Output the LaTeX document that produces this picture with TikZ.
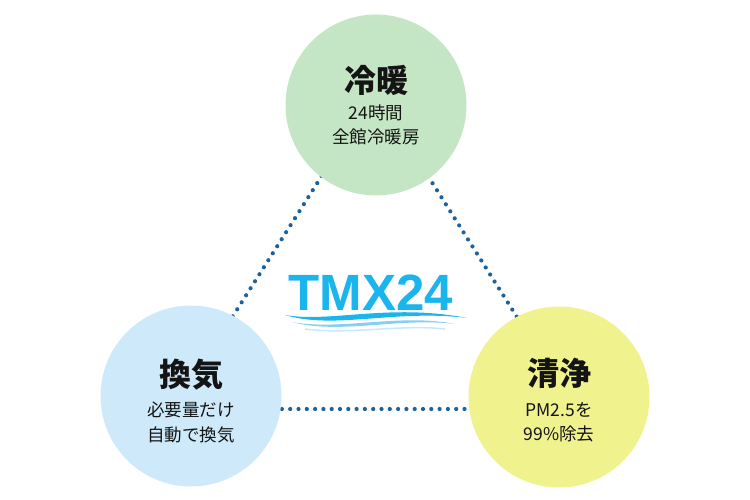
\documentclass[tikz,border=0pt]{standalone}
\usepackage{fontspec}
\newfontfamily\cjk{Noto Sans CJK JP}
\newfontfamily\logofont{Liberation Sans}
\usetikzlibrary{calc}
\definecolor{cgreen}{RGB}{197,230,196}
\definecolor{cblue}{RGB}{206,234,250}
\definecolor{cyellow}{RGB}{240,242,142}
\definecolor{dotc}{RGB}{29,99,153}
\definecolor{logoc}{RGB}{25,181,236}
\definecolor{wave2}{RGB}{130,208,242}
\definecolor{wave3}{RGB}{200,233,248}
\definecolor{txt}{RGB}{20,20,20}
\tikzset{
  bubble/.style={circle, minimum size=181pt, inner sep=0pt, draw=none},
  titletext/.style={inner sep=0pt, font=\cjk\bfseries\fontsize{32}{34}\selectfont, text=txt},
  subtext/.style={inner sep=0pt, font=\cjk\fontsize{17.5}{20}\selectfont, text=txt},
  dotline/.style={draw=dotc, line width=4.2pt, line cap=round, dash pattern=on 0pt off 8.3pt}
}
\begin{document}
\begin{tikzpicture}[x=1pt,y=-1pt]
\useasboundingbox (0,0) rectangle (750,500);
% triangle corners
\coordinate (A) at (174,409);
\coordinate (B) at (375,92);
\coordinate (C) at (575,409);
\draw[dotline] (B) -- (A);
\draw[dotline] (B) -- (C);
\draw[dotline] (A) -- (C);
% circles
\node[bubble, fill=cgreen] (top) at (376,105) {};
\node[bubble, fill=cblue] (left) at (191,396) {};
\node[bubble, fill=cyellow] (right) at (559,397) {};
% texts
\node[titletext] (t1) at ($(top)+(0,-25)$) {冷暖};
\node[subtext] (t1a) at ($(top)+(0,8)$) {24時間};
\node[subtext] (t1b) at ($(top)+(0,32)$) {全館冷暖房};
\node[titletext] (t2) at ($(left)+(0,-21)$) {換気};
\node[subtext] (t2a) at ($(left)+(0,14)$) {必要量だけ};
\node[subtext] (t2b) at ($(left)+(0,39)$) {自動で換気};
\node[titletext] (t3) at ($(right)+(0,-24)$) {清浄};
\node[subtext] (t3a) at ($(right)+(0,13)$) {PM2.5を};
\node[subtext] (t3b) at ($(right)+(0,37)$) {99\%除去};
% logo
\node[inner sep=0pt, text=logoc, font=\logofont\bfseries\fontsize{51}{51}\selectfont] (logo) at (371,293) {TMX24};
\fill[logoc] (285,315) .. controls (330,323) and (390,303) .. (467,318)
  .. controls (395,309) and (335,330) .. (285,315) -- cycle;
\fill[wave2] (292,322) .. controls (340,331) and (400,313) .. (455,324)
  .. controls (400,317) and (340,335) .. (292,322) -- cycle;
\draw[wave3, line width=1.5pt] (305,329) .. controls (350,335) and (400,324) .. (445,329);
\end{tikzpicture}
\end{document}
